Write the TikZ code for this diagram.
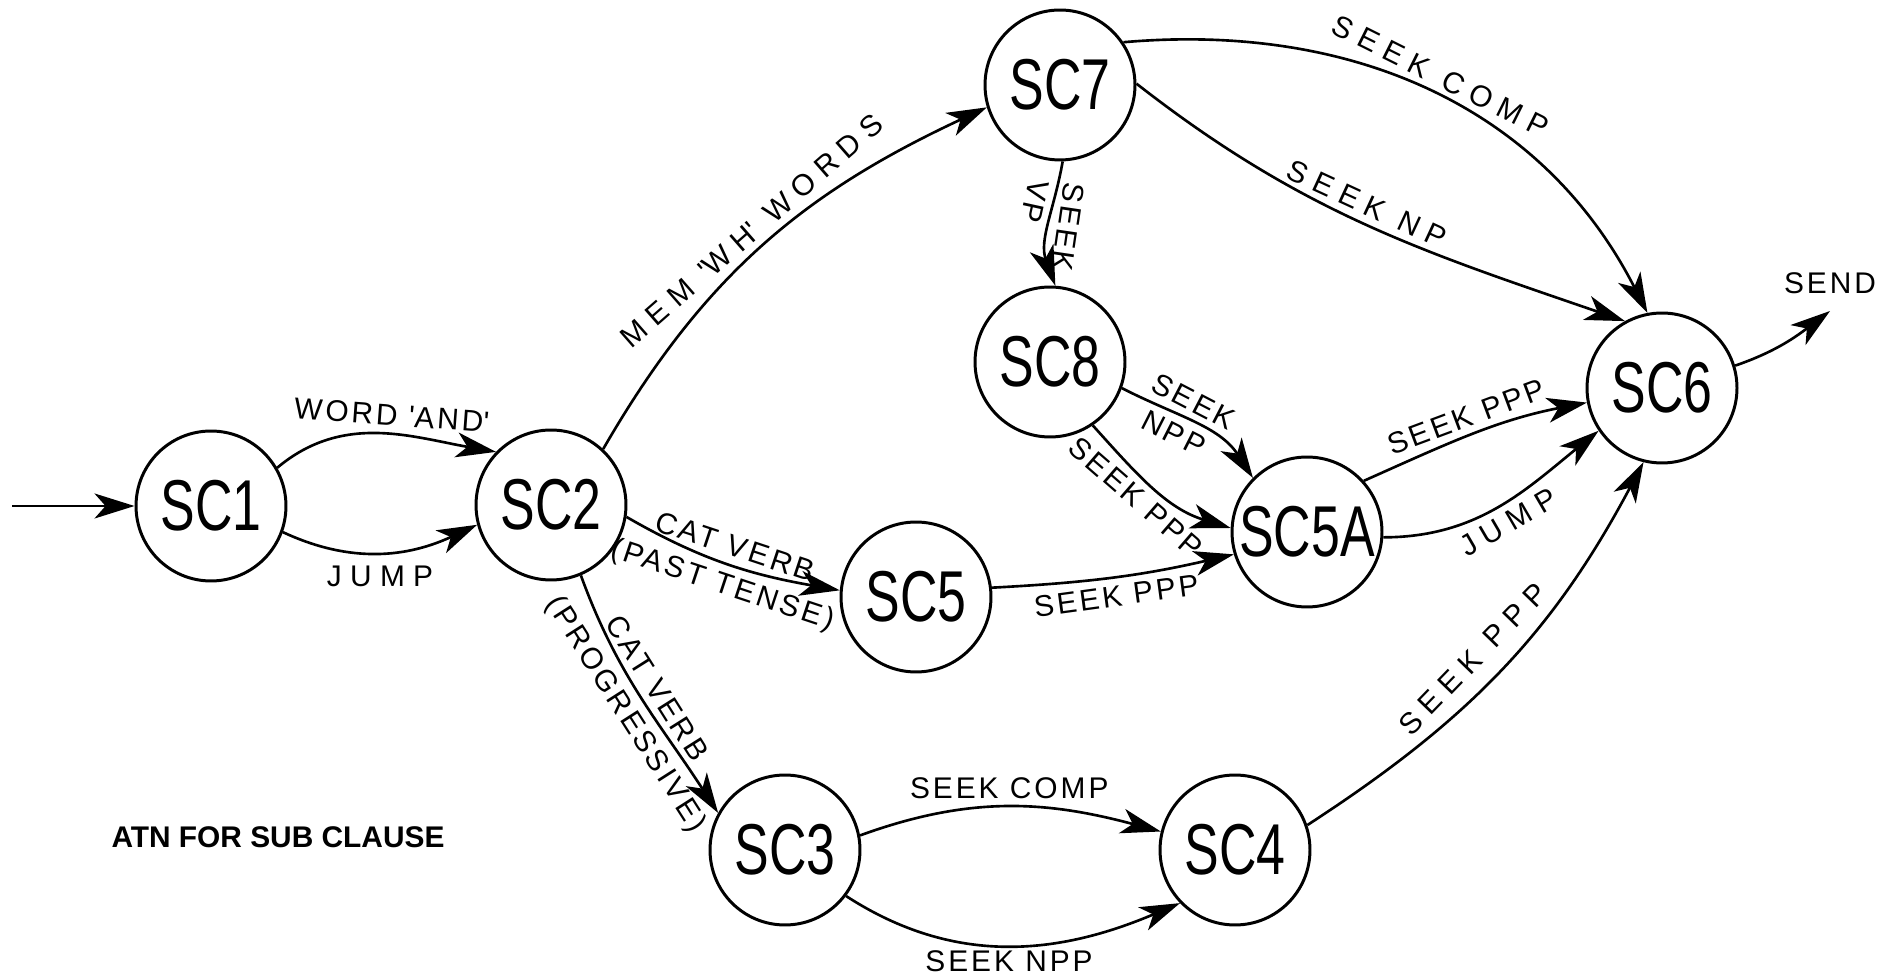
\documentclass[tikz,border=0pt]{standalone}
\usepackage{fontspec}
\setmainfont{Liberation Sans}
\newfontfamily\statefont[FakeStretch=0.72]{Liberation Sans}
\newfontfamily\labfont[LetterSpace=10]{Liberation Sans}
\newfontfamily\widelabfont[LetterSpace=28]{Liberation Sans}
\usetikzlibrary{arrows.meta}

\tikzset{
  state/.style={circle, draw, line width=1.7pt, minimum size=3cm, inner sep=0pt,
    font=\statefont\fontsize{41}{41}\selectfont},
  edge/.style={line width=1.5pt,
    -{Stealth[length=0.8cm, width=0.5cm, inset=0.22cm]}},
  lab/.style={font=\labfont\fontsize{17}{17}\selectfont, inner sep=4pt},
  widelab/.style={font=\widelabfont\fontsize{17}{17}\selectfont, inner sep=4pt},
  caption/.style={font=\bfseries\fontsize{17}{17}\selectfont},
}

\begin{document}
\begin{tikzpicture}[x=0.02cm, y=0.02cm]
\useasboundingbox (0,0) rectangle (1896,977);

% states of the network
\node[state] (SC1)  at (211,471)  {SC1};
\node[state] (SC2)  at (551,472)  {SC2};
\node[state] (SC7)  at (1060,892) {SC7};
\node[state] (SC8)  at (1050,615) {SC8};
\node[state] (SC5)  at (916,380)  {SC5};
\node[state] (SC5A) at (1307,445) {SC5A};
\node[state] (SC6)  at (1662,589) {SC6};
\node[state] (SC3)  at (785,127)  {SC3};
\node[state] (SC4)  at (1235,127) {SC4};

% entry and exit
\coordinate (entry) at (12,471);
\coordinate (sendtip) at (1830,666);
\node[lab] (send) at (1830,694) {SEND};

\draw[edge] (entry) -- (SC1);

% SC1 -> SC2
\draw[edge] (SC1.30) to[out=40, in=170]
  node[lab, above, sloped, pos=0.55] {WORD \textquotesingle AND\textquotesingle} (SC2.136);
\draw[edge] (SC1.-20) to[out=-25, in=205]
  node[widelab, below, pos=0.5, yshift=-3pt] {JUMP} (SC2.195);

% SC2 -> SC7, SC5, SC3
\draw[edge] (SC2.47) to[out=60, in=205]
  node[widelab, above, sloped, pos=0.5] {MEM \textquotesingle WH\textquotesingle\ WORDS} (SC7.197);
\draw[edge] (SC2.-9) to[out=-30, in=170]
  node[lab, above, sloped, pos=0.5] {CAT VERB}
  node[lab, below, sloped, pos=0.5] {(PAST TENSE)} (SC5.175);
\draw[edge] (SC2.-67) to[out=-70, in=123]
  node[lab, above, sloped, pos=0.5] {CAT VERB}
  node[lab, below, sloped, pos=0.52] {(PROGRESSIVE)} (SC3.151);

% SC7 -> SC8, SC6
\draw[edge] (SC7.-88) to[out=-100, in=110]
  node[lab, above, sloped, allow upside down, pos=0.5] {SEEK}
  node[lab, below, sloped, allow upside down, pos=0.34] {VP} (SC8.86);
\draw[edge] (SC7.34) to[out=5, in=117]
  node[widelab, above, sloped, pos=0.5] {SEEK\hspace{0.6em}COMP} (SC6.101);
\draw[edge] (SC7.1) to[out=-38, in=161]
  node[widelab, above, sloped, pos=0.48] {SEEK NP} (SC6.119);

% SC8 -> SC5A
\draw[edge] (SC8.-20) to[out=-27, in=123]
  node[lab, above, sloped, pos=0.42] {SEEK}
  node[lab, below, sloped, pos=0.4] {NPP} (SC5A.135);
\draw[edge] (SC8.-56) to[out=-48, in=163]
  node[lab, below, sloped, pos=0.45] {SEEK PPP} (SC5A.177);

% SC5 -> SC5A
\draw[edge] (SC5.7) to[out=3, in=193]
  node[lab, below, sloped, pos=0.5] {SEEK PPP} (SC5A.197);

% SC5A -> SC6
\draw[edge] (SC5A.42) to[out=24, in=191]
  node[lab, above, sloped, pos=0.5] {SEEK PPP} (SC6.191);
\draw[edge] (SC5A.-4) to[out=0, in=219]
  node[widelab, below, sloped, pos=0.5] {JUMP} (SC6.214);

% SC3 -> SC4 -> SC6
\draw[edge] (SC3.11) to[out=20, in=165]
  node[lab, above, pos=0.5] {SEEK COMP} (SC4.166);
\draw[edge] (SC3.-37) to[out=-33, in=203]
  node[lab, below, pos=0.5, inner sep=2pt] {SEEK NPP} (SC4.224);
\draw[edge] (SC4.19) to[out=33, in=242]
  node[widelab, above, sloped, pos=0.47, yshift=5pt] {SEEK PPP} (SC6.256);

% SC6 -> exit
\draw[edge] (SC6.17) to[out=19, in=217] (sendtip);

% caption
\node[caption] (title) at (278,140) {ATN FOR SUB CLAUSE};
\end{tikzpicture}
\end{document}
